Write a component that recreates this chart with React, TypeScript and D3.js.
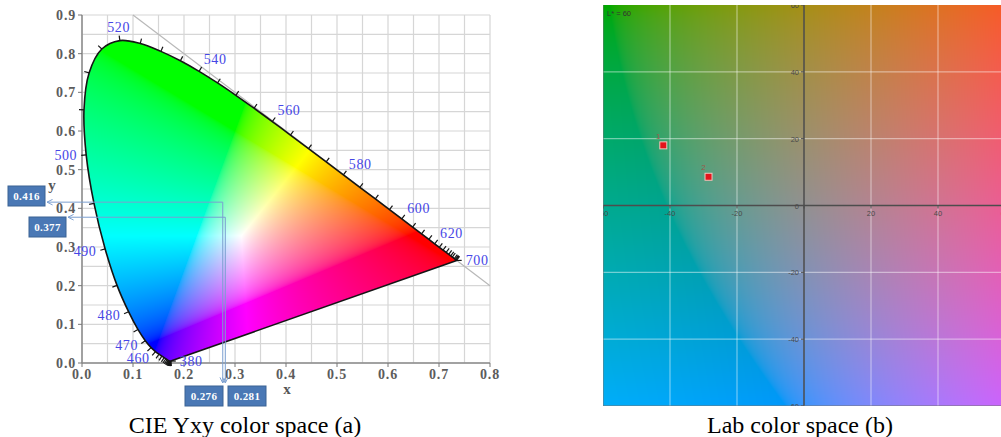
import { useMemo } from "react";
import * as d3 from "d3";

// CIE 1931 2° spectral locus (chromaticity x, y)
const wavelengths = [
  380, 385, 390, 395, 400, 405, 410, 415, 420, 425, 430, 435, 440, 445, 450, 455, 460, 465, 470, 475,
  480, 485, 490, 495, 500, 505, 510, 515, 520, 525, 530, 535, 540, 545, 550, 555, 560, 565, 570, 575,
  580, 585, 590, 595, 600, 605, 610, 615, 620, 625, 630, 635, 640, 645, 650, 660, 670, 680, 690, 700,
];
const locusX = [
  0.1741, 0.174, 0.1738, 0.1736, 0.1733, 0.173, 0.1726, 0.1721, 0.1714, 0.1703, 0.1689, 0.1669, 0.1644,
  0.1611, 0.1566, 0.151, 0.144, 0.1355, 0.1241, 0.1096, 0.0913, 0.0687, 0.0454, 0.0235, 0.0082, 0.0039,
  0.0139, 0.0389, 0.0743, 0.1142, 0.1547, 0.1929, 0.2296, 0.2658, 0.3016, 0.3373, 0.3731, 0.4087, 0.4441,
  0.4788, 0.5125, 0.5448, 0.5752, 0.6029, 0.627, 0.6482, 0.6658, 0.6801, 0.6915, 0.7006, 0.7079, 0.714,
  0.719, 0.723, 0.726, 0.73, 0.732, 0.7334, 0.7344, 0.7347,
];
const locusY = [
  0.005, 0.005, 0.0049, 0.0049, 0.0048, 0.0048, 0.0048, 0.0048, 0.0051, 0.0058, 0.0069, 0.0086, 0.0109,
  0.0138, 0.0177, 0.0227, 0.0297, 0.0399, 0.0578, 0.0868, 0.1327, 0.2007, 0.295, 0.4127, 0.5384, 0.6548,
  0.7502, 0.812, 0.8338, 0.8262, 0.8059, 0.7816, 0.7543, 0.7243, 0.6923, 0.6589, 0.6245, 0.5896, 0.5547,
  0.5202, 0.4866, 0.4544, 0.4242, 0.3965, 0.3725, 0.3514, 0.334, 0.3197, 0.3083, 0.2993, 0.292, 0.2859,
  0.2809, 0.277, 0.274, 0.27, 0.268, 0.2666, 0.2656, 0.2653,
];
const labeledWavelengths = [380, 460, 470, 480, 490, 500, 520, 540, 560, 580, 600, 620, 700];
const xTicks = [0, 0.1, 0.2, 0.3, 0.4, 0.5, 0.6, 0.7, 0.8];
const yTicks = [0, 0.1, 0.2, 0.3, 0.4, 0.5, 0.6, 0.7, 0.8, 0.9];
const markedX = [0.276, 0.281];
const markedY = [0.416, 0.377];

// Lab panel
const labLightness = 60;
const labTicks = [-60, -40, -20, 0, 20, 40, 60];
const sampleNames = ["1", "2"];
const sampleA = [-42, -28.5];
const sampleB = [18, 8.6];

const serif = "'Liberation Serif', 'Times New Roman', serif";
const sans = "'Liberation Sans', Arial, sans-serif";

function toSrgb(c: number) {
  const v = Math.max(0, c);
  return v <= 0.0031308 ? 12.92 * v : 1.055 * Math.pow(v, 1 / 2.4) - 0.055;
}

export default function App() {
  const x = d3.scaleLinear([0, 0.8], [82, 490]);
  const y = d3.scaleLinear([0, 0.9], [363, 15]);
  const a = d3.scaleLinear([-60, 60], [603, 1005]);
  const b = d3.scaleLinear([-60, 60], [406, 5]);

  const cieImage = useMemo(() => {
    const w = 408, h = 348;
    const canvas = document.createElement("canvas");
    canvas.width = w;
    canvas.height = h;
    const ctx = canvas.getContext("2d")!;
    const img = ctx.createImageData(w, h);
    for (let j = 0; j < h; j++) {
      const yv = y.invert(15 + j + 0.5);
      if (yv <= 0.001) continue;
      for (let i = 0; i < w; i++) {
        const xv = x.invert(82 + i + 0.5);
        const X = xv / yv, Z = (1 - xv - yv) / yv;
        const r = Math.max(0, 3.2406 * X - 1.5372 - 0.4986 * Z);
        const g = Math.max(0, -0.9689 * X + 1.8758 + 0.0415 * Z);
        const bl = Math.max(0, 0.0557 * X - 0.204 + 1.057 * Z);
        const m = Math.max(r, g, bl) || 1;
        const k = (j * w + i) * 4;
        img.data[k] = 255 * toSrgb(r / m);
        img.data[k + 1] = 255 * toSrgb(g / m);
        img.data[k + 2] = 255 * toSrgb(bl / m);
        img.data[k + 3] = 255;
      }
    }
    ctx.putImageData(img, 0, 0);
    return canvas.toDataURL();
  }, []);

  const labImage = useMemo(() => {
    const w = 402, h = 401;
    const canvas = document.createElement("canvas");
    canvas.width = w;
    canvas.height = h;
    const ctx = canvas.getContext("2d")!;
    const img = ctx.createImageData(w, h);
    for (let j = 0; j < h; j++) {
      const bv = b.invert(5 + j + 0.5);
      for (let i = 0; i < w; i++) {
        const av = a.invert(603 + i + 0.5);
        const c = d3.lab(labLightness, av, bv).rgb();
        const k = (j * w + i) * 4;
        img.data[k] = c.r;
        img.data[k + 1] = c.g;
        img.data[k + 2] = c.b;
        img.data[k + 3] = 255;
      }
    }
    ctx.putImageData(img, 0, 0);
    return canvas.toDataURL();
  }, []);

  const pts = wavelengths.map((_, i) => [x(locusX[i]), y(locusY[i])] as [number, number]);
  const locusPath = d3.line().curve(d3.curveCatmullRom.alpha(0.5))(pts) + "Z";
  const wp = [x(0.3333), y(0.3333)];

  const normalAt = (i: number): [number, number] => {
    const n = pts.length;
    if (i === 0 || i === n - 1) return [1, 0];
    let k = 1, tx = 0, ty = 0;
    do {
      const p0 = pts[Math.max(0, i - k)], p1 = pts[Math.min(n - 1, i + k)];
      tx = p1[0] - p0[0];
      ty = p1[1] - p0[1];
      k++;
    } while (Math.hypot(tx, ty) < 3 && k < 6);
    let nx = -ty, ny = tx;
    const len = Math.hypot(nx, ny) || 1;
    nx /= len;
    ny /= len;
    if ((pts[i][0] - wp[0]) * nx + (pts[i][1] - wp[1]) * ny < 0) {
      nx = -nx;
      ny = -ny;
    }
    return [nx, ny];
  };

  const xGrid = d3.range(0, 17).map((i) => i * 0.05);
  const yGrid = d3.range(0, 19).map((i) => i * 0.05);
  const yBoxes = [{ left: 8, top: 186 }, { left: 29, top: 217 }];
  const xBoxes = [{ left: 185, top: 386 }, { left: 228, top: 386 }];
  const fmt3 = d3.format(".3f");

  return (
    <svg width={1001} height={437} style={{ position: "absolute", left: 0, top: 0, background: "#fff" }}>
      <defs>
        <clipPath id="locus">
          <path d={locusPath} />
        </clipPath>
        <clipPath id="labArea">
          <rect x={603} y={5} width={402} height={401} />
        </clipPath>
        <marker id="arrow" viewBox="0 0 10 10" refX={9} refY={5} markerWidth={7} markerHeight={7} orient="auto-start-reverse">
          <path d="M1,1 L9,5 L1,9" fill="none" stroke="#7b9fd0" strokeWidth={1.4} />
        </marker>
      </defs>

      {/* CIE xy panel */}
      <g>
        {xGrid.map((v) => (
          <line key={"gx" + v} x1={x(v)} x2={x(v)} y1={y(0)} y2={y(0.9)} stroke="#d6d6d6" strokeWidth={1.2} />
        ))}
        {yGrid.map((v) => (
          <line key={"gy" + v} x1={x(0)} x2={x(0.8)} y1={y(v)} y2={y(v)} stroke="#d6d6d6" strokeWidth={1.2} />
        ))}
        <line x1={x(0.1)} y1={y(0.9)} x2={x(0.8)} y2={y(0.2)} stroke="#b8b8b8" strokeWidth={1.2} />
        <line x1={x(0)} x2={x(0)} y1={y(0)} y2={y(0.9)} stroke="#8a8a8a" strokeWidth={1.5} />
        <line x1={x(0)} x2={x(0.8)} y1={y(0)} y2={y(0)} stroke="#8a8a8a" strokeWidth={1.5} />
        {yTicks.map((v) => (
          <g key={"yt" + v}>
            <line x1={x(0) - 4} x2={x(0)} y1={y(v)} y2={y(v)} stroke="#777" />
            <text x={76} y={y(v) + 5} textAnchor="end" fontFamily={serif} fontWeight="bold" fontSize={14}
              letterSpacing={0.8} fill="#5c5c5c">{d3.format(".1f")(v)}</text>
          </g>
        ))}
        {xTicks.map((v) => (
          <g key={"xt" + v}>
            <line x1={x(v)} x2={x(v)} y1={y(0)} y2={y(0) + 4} stroke="#777" />
            <text x={x(v)} y={379} textAnchor="middle" fontFamily={serif} fontWeight="bold" fontSize={14}
              letterSpacing={0.8} fill="#5c5c5c">{d3.format(".1f")(v)}</text>
          </g>
        ))}
        <text x={287} y={394} textAnchor="middle" fontFamily={serif} fontWeight="bold" fontSize={15} fill="#555">x</text>
        <text x={52} y={190} textAnchor="middle" fontFamily={serif} fontWeight="bold" fontSize={15} fill="#555">y</text>

        <image href={cieImage} x={82} y={15} width={408} height={348} preserveAspectRatio="none" clipPath="url(#locus)" />
        <path d={locusPath} fill="none" stroke="#151515" strokeWidth={1.6} strokeLinejoin="round" />
        {pts.map((p, i) => {
          const [nx, ny] = normalAt(i);
          return (
            <line key={"lt" + i} x1={p[0]} y1={p[1]} x2={p[0] + nx * 5} y2={p[1] + ny * 5} stroke="#151515" strokeWidth={1.2} />
          );
        })}
        {labeledWavelengths.map((w) => {
          const i = wavelengths.indexOf(w);
          const [nx, ny] = normalAt(i);
          const d = 9;
          const anchor = nx > 0.35 ? "start" : nx < -0.35 ? "end" : "middle";
          return (
            <text key={"wl" + w} x={pts[i][0] + nx * d} y={pts[i][1] + ny * d + 4.5 + Math.min(ny, 0) * 4.5}
              textAnchor={anchor} fontFamily={serif} fontSize={14} letterSpacing={0.6} fill="#4646e6">{w}</text>
          );
        })}

        {markedX.map((mx, i) => (
          <path key={"ann" + i}
            d={`M${yBoxes[i].left + 39},${y(markedY[i])} L${x(mx)},${y(markedY[i])} L${x(mx)},383`}
            fill="none" stroke="#7b9fd0" strokeWidth={1} markerStart="url(#arrow)" markerEnd="url(#arrow)" />
        ))}
        {markedY.map((v, i) => (
          <g key={"yb" + i}>
            <rect x={yBoxes[i].left} y={yBoxes[i].top} width={37} height={20} fill="#4a78b5" stroke="#3b6394" />
            <text x={yBoxes[i].left + 18.5} y={yBoxes[i].top + 14} textAnchor="middle" fontFamily={serif}
              fontWeight="bold" fontSize={11} letterSpacing={0.4} fill="#fff">{fmt3(v)}</text>
          </g>
        ))}
        {markedX.map((v, i) => (
          <g key={"xb" + i}>
            <rect x={xBoxes[i].left} y={xBoxes[i].top} width={38} height={20} fill="#4a78b5" stroke="#3b6394" />
            <text x={xBoxes[i].left + 19} y={xBoxes[i].top + 14} textAnchor="middle" fontFamily={serif}
              fontWeight="bold" fontSize={11} letterSpacing={0.4} fill="#fff">{fmt3(v)}</text>
          </g>
        ))}
        <text x={245} y={433} textAnchor="middle" fontFamily={serif} fontSize={24} fill="#000">CIE Yxy color space (a)</text>
      </g>

      {/* Lab panel */}
      <g>
        <image href={labImage} x={603} y={5} width={402} height={401} preserveAspectRatio="none" />
        <g clipPath="url(#labArea)">
          {labTicks.filter((v) => v !== 0 && Math.abs(v) !== 60).map((v) => (
            <g key={"lg" + v}>
              <line x1={a(v)} x2={a(v)} y1={b(60)} y2={b(-60)} stroke="#fff" strokeOpacity={0.45} strokeWidth={1.2} />
              <line x1={a(-60)} x2={a(60)} y1={b(v)} y2={b(v)} stroke="#fff" strokeOpacity={0.45} strokeWidth={1.2} />
            </g>
          ))}
          <line x1={a(0)} x2={a(0)} y1={b(60)} y2={b(-60)} stroke="#4d4d4d" strokeWidth={1.5} />
          <line x1={a(-60)} x2={a(60)} y1={b(0)} y2={b(0)} stroke="#4d4d4d" strokeWidth={1.5} />
          <line x1={a(-60)} x2={a(-60)} y1={b(60)} y2={b(-60)} stroke="#777" strokeWidth={1} />
          <line x1={a(-60)} x2={a(60)} y1={b(-60)} y2={b(-60)} stroke="#777" strokeWidth={1} />
          {labTicks.map((v) => (
            <g key={"lt" + v}>
              <line x1={a(v)} x2={a(v)} y1={b(0)} y2={b(0) + 3} stroke="#4d4d4d" />
              <line x1={a(0) - 3} x2={a(0)} y1={b(v)} y2={b(v)} stroke="#4d4d4d" />
            </g>
          ))}
          {labTicks.filter((v) => v !== 0).map((v) => (
            <text key={"la" + v} x={a(v)} y={b(0) + 10} textAnchor="middle" fontFamily={sans} fontSize={7.5} fill="#4a4a4a">{v}</text>
          ))}
          {labTicks.map((v) => (
            <text key={"lb" + v} x={a(0) - 5} y={b(v) + 3} textAnchor="end" fontFamily={sans} fontSize={7.5} fill="#4a4a4a">{v}</text>
          ))}
          <text x={607} y={16} fontFamily={sans} fontSize={7.5} fill="#333">L*  = {labLightness}</text>
          {sampleA.map((av, i) => (
            <g key={"s" + i}>
              <rect x={a(av) - 3.5} y={b(sampleB[i]) - 3.5} width={7} height={7} fill="#e3141b" stroke="#f2c4bd" strokeWidth={1} />
              <text x={a(av) - 5} y={b(sampleB[i]) - 6.5} textAnchor="middle" fontFamily={sans} fontSize={8} fill="#9a5a4a">{sampleNames[i]}</text>
            </g>
          ))}
        </g>
        <text x={800} y={433} textAnchor="middle" fontFamily={serif} fontSize={24} fill="#000">Lab color space (b)</text>
      </g>
    </svg>
  );
}
